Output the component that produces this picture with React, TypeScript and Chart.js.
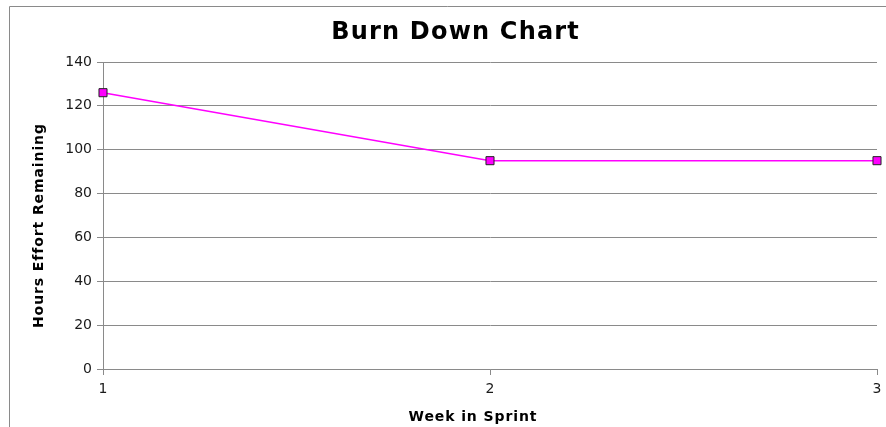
import React, { useEffect, useRef } from "react";
import { Chart, registerables } from "chart.js";

Chart.register(...registerables);

const weeks = ["1", "2", "3"];
const hoursRemaining = [126, 95, 95];
const titleText = "Burn Down Chart";
const xTitle = "Week in Sprint";
const yTitle = "Hours Effort Remaining";

const GRAY = "#8a8a8a";
const FONT = "'DejaVu Sans', sans-serif";

const framePlugin = {
  id: "frame",
  beforeDraw(chart: any) {
    const { ctx, width, height } = chart;
    ctx.save();
    ctx.fillStyle = "#ffffff";
    ctx.fillRect(0, 0, width, height);
    ctx.strokeStyle = GRAY;
    ctx.lineWidth = 1;
    ctx.beginPath();
    ctx.moveTo(9.5, height);
    ctx.lineTo(9.5, 6.5);
    ctx.lineTo(width, 6.5);
    ctx.stroke();
    ctx.restore();
  },
};

function spacedText(
  ctx: CanvasRenderingContext2D,
  text: string,
  cx: number,
  baseline: number,
  spacing: number
) {
  (ctx as any).letterSpacing = spacing + "px";
  const w = ctx.measureText(text).width - spacing;
  ctx.textAlign = "left";
  ctx.textBaseline = "alphabetic";
  ctx.fillText(text, cx - w / 2, baseline);
  (ctx as any).letterSpacing = "0px";
}

const titlesPlugin = {
  id: "titles",
  afterDraw(chart: any) {
    const { ctx } = chart;
    ctx.save();
    ctx.fillStyle = "#000000";
    ctx.font = `bold 24px ${FONT}`;
    spacedText(ctx, titleText, 455, 39, 1.2);
    ctx.font = `bold 14px ${FONT}`;
    spacedText(ctx, xTitle, 472.5, 420.5, 0.9);
    ctx.translate(43, 226);
    ctx.rotate(-Math.PI / 2);
    spacedText(ctx, yTitle, 0, 0, 0.9);
    ctx.restore();
  },
};

export default function App() {
  const ref = useRef<HTMLCanvasElement | null>(null);
  useEffect(() => {
    if (!ref.current) return;
    const chart = new Chart(ref.current, {
      type: "line",
      data: {
        labels: weeks,
        datasets: [
          {
            data: hoursRemaining,
            borderColor: "#ff00ff",
            backgroundColor: "#ff00ff",
            borderWidth: 1.5,
            pointStyle: "rect",
            pointRadius: 5.7,
            pointBorderColor: "#222222",
            pointBorderWidth: 1,
            pointBackgroundColor: "#ff00ff",
            tension: 0,
            clip: false as any,
          },
        ],
      },
      options: {
        animation: false,
        responsive: false,
        maintainAspectRatio: false,
        layout: { padding: { left: 0, right: 9, top: 62, bottom: 0 } },
        plugins: {
          legend: { display: false },
          tooltip: { enabled: false },
          title: { display: false },
        },
        scales: {
          x: {
            type: "category",
            offset: false,
            grid: {
              display: true,
              drawOnChartArea: false,
              drawTicks: true,
              tickLength: 6,
              color: GRAY,
            },
            border: { color: GRAY, width: 1 },
            ticks: {
              color: "#1a1a1a",
              font: { family: FONT, size: 14 },
              padding: 6,
              maxRotation: 0,
            },
            afterFit(scale: any) {
              scale.height = 58;
              scale.paddingLeft = 0;
              scale.paddingRight = 0;
            },
          },
          y: {
            min: 0,
            max: 140,
            grid: { color: GRAY, tickLength: 6, drawTicks: true },
            border: { color: GRAY, width: 1 },
            ticks: {
              stepSize: 20,
              color: "#1a1a1a",
              font: { family: FONT, size: 14 },
              padding: 5,
            },
            afterFit(scale: any) {
              scale.width = 103;
              scale.paddingTop = 0;
              scale.paddingBottom = 0;
            },
          },
        },
      },
      plugins: [framePlugin, titlesPlugin],
    });
    return () => chart.destroy();
  }, []);
  return (
    <canvas
      ref={ref}
      width={886}
      height={427}
      style={{ position: "fixed", left: 0, top: 0, width: 886, height: 427 }}
    />
  );
}
